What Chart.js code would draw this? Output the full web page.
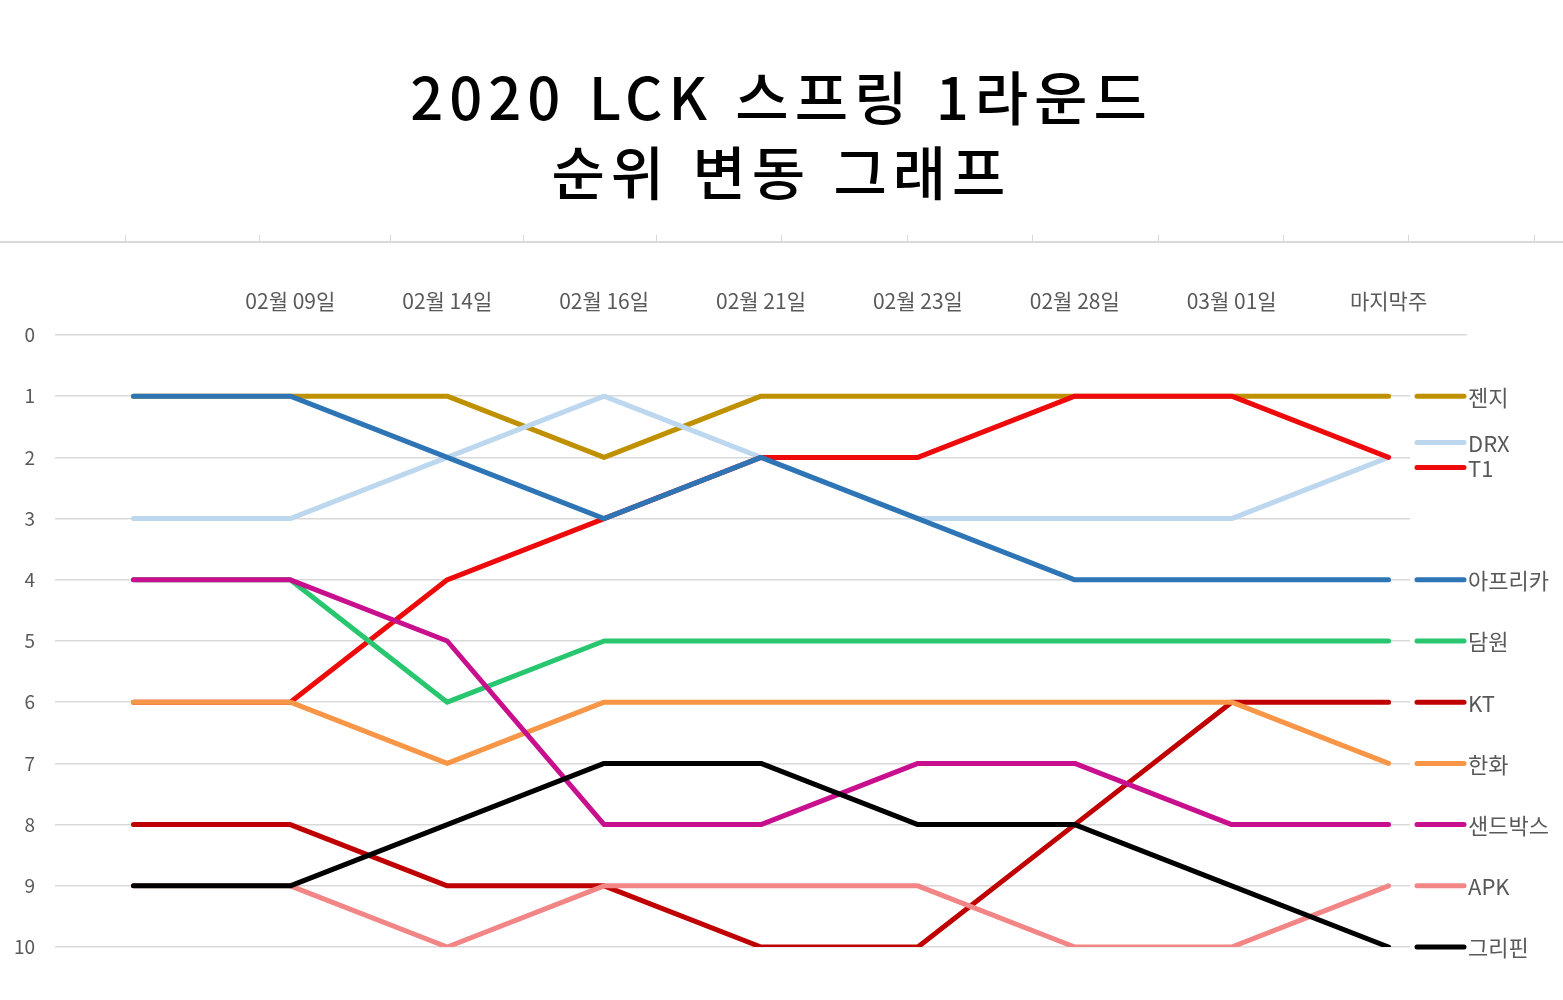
<!DOCTYPE html>
<html lang="ko">
<head>
<meta charset="utf-8">
<title>2020 LCK 스프링 1라운드 순위 변동 그래프</title>
<script src="https://cdn.jsdelivr.net/npm/chart.js@4.4.1/dist/chart.umd.min.js"></script>
<style>
  html, body { margin: 0; padding: 0; background: #fff; }
  #wrap { position: relative; width: 1563px; height: 1000px; overflow: hidden; }
  #title {
    position: absolute; left: 0; top: 58px; width: 100%;
    text-align: center; font-family: 'Noto Sans CJK KR', sans-serif;
    font-size: 58px; font-weight: 500; line-height: 75px; letter-spacing: 6px; color: #000;
  }
  #rule { position: absolute; left: 0; top: 241px; width: 100%; height: 2px; background: #d9d9d9; }
  .tick { position: absolute; top: 235px; width: 1px; height: 7px; background: #d9d9d9; }
  #chart { position: absolute; left: 0; top: 0; }
</style>
</head>
<body>
<div id="wrap">
  <div id="title">2020 LCK 스프링 1라운드<br>순위 변동 그래프</div>
  <div id="rule"></div>
  <canvas id="chart" width="1563" height="1000"></canvas>
</div>
<script>
// Round labels (first column has no label)
const rounds = ['', '02월 09일', '02월 14일', '02월 16일', '02월 21일', '02월 23일', '02월 28일', '03월 01일', '마지막주'];

// Team names
const teams = ['젠지', 'DRX', 'T1', '아프리카', '담원', 'KT', '한화', '샌드박스', 'APK', '그리핀'];

// Ranks per round
const gen     = [1, 1, 1, 2, 1, 1, 1, 1, 1];
const drx     = [3, 3, 2, 1, 2, 3, 3, 3, 2];
const t1      = [6, 6, 4, 3, 2, 2, 1, 1, 2];
const afreeca = [1, 1, 2, 3, 2, 3, 4, 4, 4];
const damwon  = [4, 4, 6, 5, 5, 5, 5, 5, 5];
const kt      = [8, 8, 9, 9, 10, 10, 8, 6, 6];
const hanwha  = [6, 6, 7, 6, 6, 6, 6, 6, 7];
const sandbox = [4, 4, 5, 8, 8, 7, 7, 8, 8];
const apk     = [9, 9, 10, 9, 9, 9, 10, 10, 9];
const griffin = [9, 9, 8, 7, 7, 8, 8, 9, 10];

// Rank axis ticks
const rankTicks = [0, 1, 2, 3, 4, 5, 6, 7, 8, 9, 10];

const series = [gen, drx, t1, afreeca, damwon, kt, hanwha, sandbox, apk, griffin];
const colors = ['#BF9000', '#BDD7EE', '#EE0A0A', '#2E75B6', '#28C76F', '#C00000', '#F79646', '#C8108F', '#F28585', '#000000'];
// vertical nudge of the end labels (DRX and T1 share the same rank)
const labelShift = [0, -15, 10, 0, 0, 0, 0, 0, 0, 0];

// ruler ticks along the grey line under the title
[125, 259, 390, 523, 656, 781, 907, 1032, 1158, 1283, 1408, 1534].forEach(x => {
    const t = document.createElement('div');
    t.className = 'tick';
    t.style.left = x + 'px';
    document.getElementById('wrap').appendChild(t);
});

const FONT = "'Noto Sans CJK KR', 'Noto Sans', sans-serif";
const KEY_X = 1410;

// Gridlines below the top one stop short of the label column
const trimGrid = {
    id: 'trimGrid',
    beforeDatasetsDraw(chart) {
        const { ctx, chartArea, scales } = chart;
        const top = scales.y.getPixelForValue(0) + 4;
        ctx.save();
        ctx.fillStyle = '#fff';
        ctx.fillRect(KEY_X, top, chartArea.right - KEY_X + 2, chartArea.bottom - top + 4);
        ctx.restore();
    }
};

// Draw team name with a short key line at the end of each series
const endLabels = {
    id: 'endLabels',
    afterDatasetsDraw(chart) {
        const ctx = chart.ctx;
        ctx.save();
        ctx.font = '22px ' + FONT;
        ctx.textBaseline = 'middle';
        chart.data.datasets.forEach((ds, i) => {
            const meta = chart.getDatasetMeta(i);
            const last = meta.data[meta.data.length - 1];
            const y = last.y + labelShift[i];
            const tw = ctx.measureText(ds.label).width;
            ctx.fillStyle = '#fff';
            ctx.fillRect(KEY_X, y - 12, 62 + tw, 24);
            ctx.strokeStyle = ds.borderColor;
            ctx.lineWidth = 5;
            ctx.lineCap = 'round';
            ctx.beginPath();
            ctx.moveTo(1417, y);
            ctx.lineTo(1464, y);
            ctx.stroke();
            ctx.fillStyle = '#595959';
            ctx.fillText(ds.label, 1468, y + 1);
        });
        ctx.restore();
    }
};

new Chart(document.getElementById('chart').getContext('2d'), {
    type: 'line',
    data: {
        labels: rounds,
        datasets: series.map((values, i) => ({
            label: teams[i],
            data: values,
            borderColor: colors[i],
            backgroundColor: colors[i],
            borderWidth: 5,
            borderCapStyle: 'round',
            borderJoinStyle: 'round',
            pointRadius: 0,
            tension: 0,
            order: series.length - 1 - i
        }))
    },
    options: {
        responsive: false,
        animation: false,
        events: [],
        layout: { padding: { top: 270, right: 96, bottom: 53, left: 0 } },
        plugins: {
            legend: { display: false },
            title: { display: false },
            tooltip: { enabled: false }
        },
        scales: {
            x: {
                position: 'top',
                offset: true,
                grid: { display: false, drawTicks: false },
                border: { display: false },
                ticks: {
                    color: '#595959',
                    font: { family: FONT, size: 21 },
                    padding: 21,
                    maxRotation: 0,
                    autoSkip: false
                },
                afterFit(scale) { scale.height = 65; }
            },
            y: {
                reverse: true,
                min: 0,
                max: 10,
                afterBuildTicks(scale) { scale.ticks = rankTicks.map(v => ({ value: v })); },
                grid: { color: '#d9d9d9', lineWidth: 1.5, drawTicks: false },
                border: { display: false },
                ticks: {
                    color: '#595959',
                    font: { family: FONT, size: 19 },
                    padding: 20
                },
                afterFit(scale) { scale.width = 55; }
            }
        }
    },
    plugins: [trimGrid, endLabels]
});
</script>
</body>
</html>
